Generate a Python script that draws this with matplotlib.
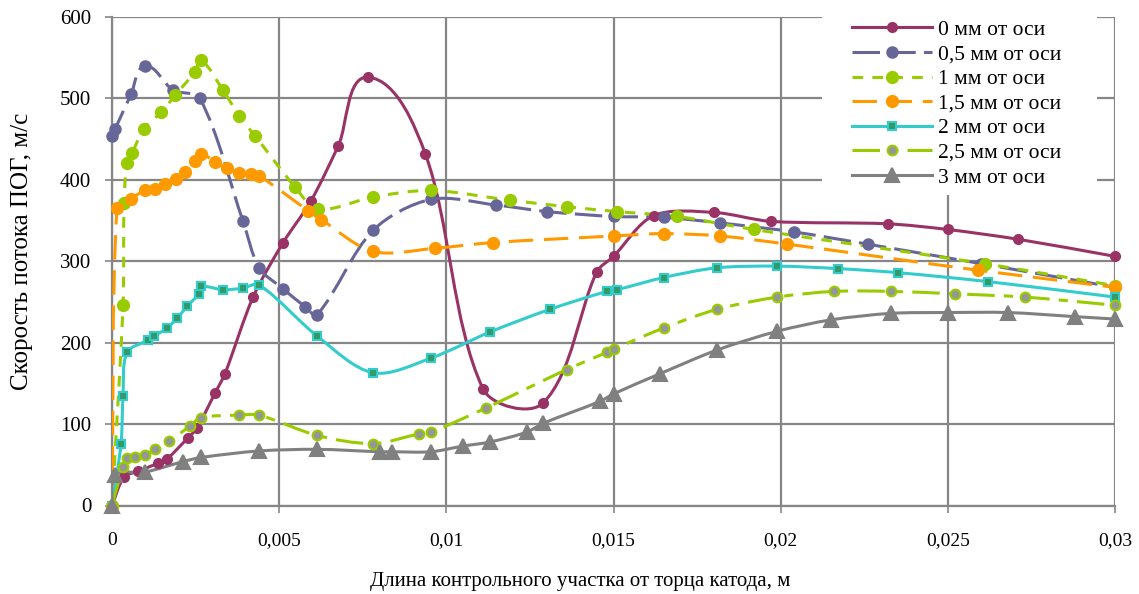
import numpy as np
import matplotlib
matplotlib.use('Agg')
import matplotlib.pyplot as plt
from matplotlib.path import Path
from matplotlib.patches import PathPatch, Rectangle
from matplotlib.lines import Line2D

plt.rcParams['font.family'] = ['Liberation Serif', 'DejaVu Serif']

#%% Data: distance from cathode face, m  /  flow velocity, m/s
x_0 = [0, 0.00036, 0.00078, 0.00138, 0.00164, 0.00227, 0.00254, 0.00308, 0.00338,
       0.00422, 0.00512, 0.00595, 0.00677, 0.00767, 0.00937, 0.0111, 0.0129, 0.0145,
       0.0150, 0.0162, 0.0180, 0.0197, 0.0232, 0.0250, 0.0271, 0.0300]
y_0 = [0, 35, 42, 52, 57, 83, 95, 138, 162, 256, 323, 374, 442, 526, 432, 143, 126,
       287, 306, 356, 360, 349, 346, 339, 327, 306]

x_05 = [0, 0.0001, 0.00057, 0.00099, 0.00183, 0.00263, 0.00392, 0.00440, 0.00512,
        0.00578, 0.00613, 0.00781, 0.00954, 0.0115, 0.0130, 0.0150, 0.0165, 0.0182,
        0.0204, 0.0226, 0.0260, 0.0300]
y_05 = [454, 463, 505, 540, 510, 500, 349, 292, 266, 244, 234, 338, 376, 369, 361,
        355, 354, 347, 336, 321, 297, 268]

x_1 = [0, 0.00033, 0.00036, 0.00045, 0.0006, 0.00096, 0.00147, 0.00189, 0.00249,
       0.00266, 0.00332, 0.00380, 0.00428, 0.00548, 0.00617, 0.00781, 0.00954, 0.0119,
       0.0136, 0.0151, 0.0169, 0.0192, 0.0261, 0.0300]
y_1 = [0, 246, 372, 421, 433, 463, 483, 504, 533, 547, 510, 479, 454, 391, 364, 379,
       387, 375, 367, 361, 355, 339, 297, 270]

x_15 = [0, 0.00015, 0.00057, 0.00099, 0.00129, 0.00159, 0.00192, 0.00219, 0.00249,
        0.00266, 0.00308, 0.00344, 0.00380, 0.00416, 0.00440, 0.00587, 0.00626,
        0.00781, 0.00967, 0.0114, 0.0150, 0.0165, 0.0182, 0.0202, 0.0259, 0.0300]
y_15 = [0, 366, 377, 387, 389, 395, 401, 410, 423, 432, 422, 414, 409, 407, 405, 362,
        351, 312, 316, 323, 331, 334, 331, 321, 289, 268]

x_2 = [0, 0.00027, 0.00033, 0.00045, 0.00108, 0.00126, 0.00165, 0.00195, 0.00225,
       0.00260, 0.00266, 0.00332, 0.00392, 0.00440, 0.00614, 0.00781, 0.00954, 0.0113,
       0.0131, 0.0148, 0.0151, 0.0165, 0.0181, 0.0199, 0.0217, 0.0235, 0.0262, 0.0300]
y_2 = [0, 76, 135, 188, 203, 208, 218, 230, 245, 260, 269, 265, 267, 271, 208, 163,
       181, 213, 241, 263, 265, 280, 292, 294, 291, 286, 275, 256]

x_25 = [0, 0.00033, 0.00045, 0.00069, 0.00099, 0.00129, 0.00171, 0.00234, 0.00266,
        0.00380, 0.00440, 0.00614, 0.00781, 0.00919, 0.00954, 0.0112, 0.0136, 0.0148,
        0.0150, 0.0165, 0.0181, 0.0199, 0.0216, 0.0233, 0.0252, 0.0273, 0.0300]
y_25 = [0, 47, 58, 59, 62, 69, 79, 98, 108, 111, 111, 86, 76, 88, 90, 120, 167, 188,
        192, 218, 241, 256, 263, 263, 260, 256, 246]

x_3 = [0, 0.0001, 0.00099, 0.00213, 0.00266, 0.00440, 0.00614, 0.00802, 0.00838,
       0.00954, 0.0105, 0.0113, 0.0124, 0.0129, 0.0146, 0.0150, 0.0164, 0.0181,
       0.0199, 0.0215, 0.0233, 0.0250, 0.0268, 0.0288, 0.0300]
y_3 = [0, 37, 41, 54, 59, 67, 69, 66, 66, 66, 73, 78, 90, 101, 128, 137, 162, 191,
       214, 228, 236, 237, 237, 232, 229]

labels = ['0 мм от оси', '0,5 мм от оси', '1 мм от оси', '1,5 мм от оси',
          '2 мм от оси', '2,5 мм от оси', '3 мм от оси']

#%% Styles
styles = [
    dict(color='#993366', dashes=None, marker='o', ms=6.5, mfc='#993366', mec='#993366'),
    dict(color='#666699', dashes=(9, 2.7), marker='o', ms=7.5, mfc='#666699', mec='#666699'),
    dict(color='#99CC00', dashes=(3.5, 3), marker='o', ms=8, mfc='#99CC00', mec='#99CC00'),
    dict(color='#FF9900', dashes=(8, 3.5), marker='o', ms=8, mfc='#FF9900', mec='#FF9900'),
    dict(color='#33CCCC', dashes=None, marker='s', ms=6, mfc='#339966', mec='#33CCCC'),
    dict(color='#99CC00', dashes=(9, 3, 3, 3), marker='o', ms=7, mfc='#969696', mec='#99CC00'),
    dict(color='#808080', dashes=None, marker='^', ms=10, mfc='#808080', mec='#808080'),
]

XMAX, YMAX = 0.03, 600
SX, SY = 1003 / XMAX, 488 / YMAX   # approx pixels per unit, for smoothing


def smooth_path(xs, ys, k=0.3):
    # Excel-like smoothed line: cubic Bezier between points, tangents
    # taken in screen proportions so x and y are weighted evenly
    p = np.column_stack([np.asarray(xs) * SX, np.asarray(ys) * SY])
    n = len(p)
    tang = np.zeros_like(p)
    for i in range(n):
        a = p[max(i - 1, 0)]
        b = p[min(i + 1, n - 1)]
        d = b - a
        nrm = np.hypot(*d)
        tang[i] = d / nrm if nrm > 0 else 0
    verts = [p[0]]
    codes = [Path.MOVETO]
    for i in range(n - 1):
        L = np.hypot(*(p[i + 1] - p[i]))
        verts += [p[i] + tang[i] * L * k, p[i + 1] - tang[i + 1] * L * k, p[i + 1]]
        codes += [Path.CURVE4] * 3
    verts = np.array(verts) / [SX, SY]
    return Path(verts, codes)


series = [(x_0, y_0), (x_05, y_05), (x_1, y_1), (x_15, y_15),
          (x_2, y_2), (x_25, y_25), (x_3, y_3)]

fig = plt.figure(figsize=(11.39, 5.94), dpi=100)
ax = fig.add_axes([112 / 1139, 1 - 505.5 / 594, 1003 / 1139, 488.5 / 594])

lw = 2.2
handles = []
for (xs, ys), st, lab in zip(series, styles, labels):
    ls = '-' if st['dashes'] is None else (0, st['dashes'])
    patch = PathPatch(smooth_path(xs, ys), fill=False, edgecolor=st['color'],
                      lw=lw, linestyle=ls, capstyle='butt', joinstyle='round',
                      zorder=3)
    ax.add_patch(patch)
    ax.plot(xs, ys, linestyle='none', marker=st['marker'], ms=st['ms'],
            mfc=st['mfc'], mec=st['mec'], mew=1.5, zorder=4, clip_on=False)
    handles.append(Line2D([], [], color=st['color'], lw=lw, linestyle=ls,
                          marker=st['marker'], ms=st['ms'], mfc=st['mfc'],
                          mec=st['mec'], mew=1.5, label=lab))

ax.set_xlim(0, XMAX)
ax.set_ylim(0, YMAX)
ax.set_xticks(np.arange(0, 0.0301, 0.005))
ax.set_xticklabels(['0', '0,005', '0,01', '0,015', '0,02', '0,025', '0,03'])
ax.set_yticks(np.arange(0, 601, 100))

grid_c = '#868686'
ax.grid(True, color=grid_c, lw=1.6, zorder=0)
ax.set_axisbelow(True)
for s in ['top', 'right']:
    ax.spines[s].set_visible(False)
for s in ['left', 'bottom']:
    ax.spines[s].set_color(grid_c)
    ax.spines[s].set_linewidth(1.6)
ax.tick_params(colors=grid_c, labelcolor='black', length=5, width=1.2,
               direction='out')
ax.tick_params(axis='x', pad=14, labelsize=14)
ax.tick_params(axis='y', pad=10, labelsize=15)

ax.set_xlabel('Длина контрольного участка от торца катода, м', fontsize=15)
ax.xaxis.set_label_coords(0.467, -0.136)
ax.set_ylabel('Скорость потока ПОГ, м/с', fontsize=18)
ax.yaxis.set_label_coords(-0.079, 0.52)

# white panel under the legend (hides the grid there)
ax.add_patch(Rectangle((0.708, 0.636), 0.274, 0.378, transform=ax.transAxes,
                       facecolor='white', edgecolor='none', zorder=2.5,
                       clip_on=False))
leg = ax.legend(handles=handles, loc='upper left',
                bbox_to_anchor=(0.738, 0.994), fontsize=15.5, frameon=False,
                handlelength=3.7, handletextpad=0.3, labelspacing=0.21,
                borderpad=0, borderaxespad=0)
leg.set_zorder(5)

fig.savefig('out.png', dpi=100)
